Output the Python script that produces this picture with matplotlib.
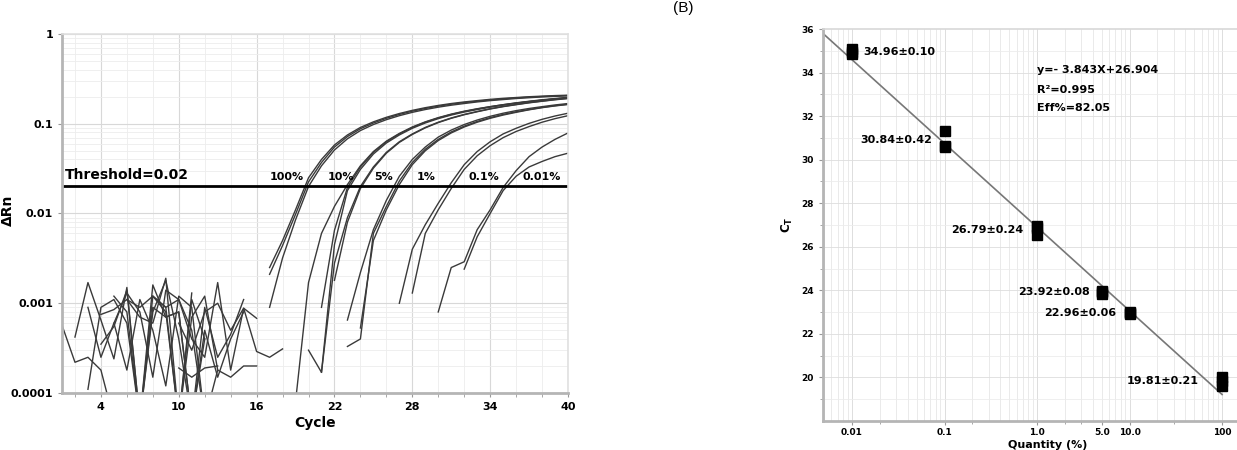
import matplotlib.pyplot as plt
from matplotlib.ticker import FixedLocator, LogLocator, NullFormatter
import numpy as np

W, H = 1237, 450

# ---- (A) amplification plot: (first cycle, dRn per cycle) ----
baseline_noise = [
    (1, [0.00057, 0.00022, 0.00025, 0.00018, 0.00005]),
    (2, [0.00042, 0.0017, 0.00065, 0.00024, 0.0015, 0.00005, 0.0008, 0.0018, 0.0004, 0.00005, 0.0004]),
    (3, [0.00011, 0.0009, 0.0011, 0.0006, 0.00005, 0.0012, 0.0009, 0.00005, 0.0007, 0.0012, 0.00018]),
    (3, [0.0009, 0.00025, 0.0006, 0.0013, 0.0008, 0.00015, 0.0014, 0.0011, 0.0005, 0.00005]),
    (4, [0.00075, 0.00085, 0.0011, 0.0007, 0.0006, 0.0019, 0.00005, 0.0011, 0.0004]),
    (4, [0.00035, 0.00055, 0.0014, 0.00005, 0.0009, 0.0007, 0.0008, 0.00005, 0.0009, 0.00025, 0.00045, 0.0011]),
    (5, [0.0012, 0.0008, 0.00005, 0.0016, 0.0007, 0.0008, 0.00005, 0.0005, 0.00015, 0.0004, 0.0008]),
    (5, [0.0006, 0.00018, 0.0011, 0.0005, 0.00012, 0.0012, 0.0009, 0.00005, 0.00018, 0.00015, 0.0002, 0.0002]),
    (6, [0.0011, 0.0009, 0.0012, 0.0008, 0.00005, 0.0013]),
    (8, [0.0012, 0.0009, 0.0011, 0.0004, 0.00025, 0.0017, 0.00018, 0.00088, 0.00068]),
    (10, [0.0006, 0.0003, 0.0008, 0.0010, 0.0005, 0.00088, 0.00029, 0.00025, 0.00031]),
    (10, [0.00019, 0.00015, 0.00019, 0.0002]),
]
curves_100 = [
    (17, [0.0025, 0.0050, 0.0110, 0.0250, 0.040, 0.058, 0.075, 0.091, 0.105, 0.118, 0.130, 0.141,
          0.151, 0.160, 0.168, 0.175, 0.181, 0.187, 0.192, 0.196, 0.200, 0.203, 0.206, 0.208]),
    (17, [0.0021, 0.0044, 0.0098, 0.0225, 0.037, 0.055, 0.072, 0.088, 0.102, 0.115, 0.127, 0.138,
          0.148, 0.157, 0.165, 0.172, 0.178, 0.184, 0.189, 0.194, 0.198, 0.201, 0.204, 0.206]),
    (17, [0.0009, 0.0032, 0.0085, 0.0200, 0.034, 0.051, 0.068, 0.084, 0.098, 0.111, 0.123, 0.134,
          0.144, 0.153, 0.161, 0.168, 0.175, 0.181, 0.186, 0.191, 0.195, 0.199, 0.202, 0.205]),
]
curves_10 = [
    (19, [0.00008, 0.0017, 0.0060, 0.0120, 0.0210, 0.034, 0.049, 0.064, 0.078, 0.092, 0.105,
          0.117, 0.128, 0.138, 0.147, 0.155, 0.163, 0.170, 0.177, 0.183, 0.189, 0.194]),
    (21, [0.0009, 0.0065, 0.0195, 0.033, 0.048, 0.063, 0.077, 0.091, 0.104, 0.116, 0.127,
          0.137, 0.146, 0.155, 0.163, 0.171, 0.178, 0.185, 0.191, 0.197]),
    (21, [0.00017, 0.0045, 0.0180, 0.031, 0.046, 0.061, 0.075, 0.089, 0.102, 0.114, 0.125,
          0.135, 0.144, 0.153, 0.161, 0.169, 0.176, 0.183, 0.189, 0.195]),
]
curves_5 = [
    (20, [0.0003, 0.00017, 0.0028, 0.0090, 0.0200, 0.033, 0.048, 0.063, 0.077, 0.091, 0.104,
          0.116, 0.127, 0.137, 0.147, 0.156, 0.164, 0.172, 0.179, 0.186, 0.192]),
    (22, [0.0018, 0.0080, 0.0190, 0.032, 0.047, 0.062, 0.076, 0.090, 0.103, 0.115, 0.126,
          0.136, 0.146, 0.155, 0.163, 0.171, 0.178, 0.185, 0.191]),
]
curves_1 = [
    (23, [0.00065, 0.0022, 0.0066, 0.0140, 0.0260, 0.040, 0.055, 0.071, 0.085, 0.098, 0.110,
          0.121, 0.131, 0.140, 0.148, 0.155, 0.162, 0.168]),
    (23, [0.00033, 0.00040, 0.0060, 0.0120, 0.0230, 0.037, 0.052, 0.067, 0.081, 0.094, 0.106,
          0.117, 0.127, 0.136, 0.144, 0.152, 0.159, 0.165]),
    (24, [0.00053, 0.0050, 0.0110, 0.0210, 0.035, 0.050, 0.065, 0.079, 0.092, 0.104, 0.115,
          0.125, 0.134, 0.143, 0.151, 0.158, 0.164]),
]
curves_01 = [
    (27, [0.0010, 0.0040, 0.0075, 0.0130, 0.0220, 0.035, 0.049, 0.063, 0.077, 0.089, 0.101,
          0.112, 0.122, 0.131]),
    (28, [0.0013, 0.0060, 0.0110, 0.0190, 0.031, 0.044, 0.057, 0.070, 0.082, 0.093, 0.104,
          0.114, 0.123]),
]
curves_001 = [
    (30, [0.0008, 0.0025, 0.0029, 0.0066, 0.0110, 0.0195, 0.030, 0.043, 0.055, 0.067, 0.079]),
    (32, [0.0024, 0.0055, 0.0100, 0.0180, 0.026, 0.033, 0.038, 0.043, 0.047]),
]
threshold = 0.02
dilution_labels = ['100%', '10%', '5%', '1%', '0.1%', '0.01%']
dilution_label_x = [18.3, 22.5, 25.8, 29.1, 33.5, 38.0]

# ---- (B) standard curve ----
quantity = [0.01, 0.1, 1.0, 5.0, 10.0, 100]
ct_reps = [
    [34.86, 35.06, 34.96],
    [31.30, 30.60, 30.62],
    [26.55, 26.95, 26.87],
    [23.85, 23.98, 23.93],
    [22.90, 23.00, 22.98],
    [19.62, 20.00, 19.83],
]
ct_labels = ['34.96±0.10', '30.84±0.42', '26.79±0.24', '23.92±0.08', '22.96±0.06', '19.81±0.21']
slope, intercept = -3.843, 26.904
# label offsets in pixels (dx, dy)
label_offsets = [(11, 0), (-12, 1), (-14, 0), (-12, 0), (-13, 0), (-23, 0)]

fig = plt.figure(figsize=(W / 100, H / 100), dpi=100)
fig.patch.set_facecolor('white')

# ---------------- panel A ----------------
ax1 = fig.add_axes([62 / W, 1 - 393 / H, (568 - 62) / W, (393 - 34) / H])
ax1.set_yscale('log')
ax1.set_xlim(1, 40)
ax1.set_ylim(1e-4, 1)

for group in [baseline_noise, curves_100, curves_10, curves_5, curves_1, curves_01, curves_001]:
    for start, vals in group:
        cyc = np.arange(start, start + len(vals))
        ax1.plot(cyc, vals, color='#3a3a3a', lw=1.0)

ax1.axhline(threshold, color='black', lw=2)
ax1.text(1.2, threshold * 1.12, 'Threshold=0.02', fontsize=10, fontweight='bold', va='bottom', ha='left')
for lab, x in zip(dilution_labels, dilution_label_x):
    ax1.text(x, threshold * 1.12, lab, fontsize=8, fontweight='bold', ha='center', va='bottom')

ax1.set_xticks(range(4, 41, 6))
ax1.xaxis.set_minor_locator(FixedLocator(range(2, 41, 2)))
ax1.set_yticks([1e-4, 1e-3, 1e-2, 0.1, 1])
ax1.set_yticklabels(['0.0001', '0.001', '0.01', '0.1', '1'])
ax1.yaxis.set_minor_locator(LogLocator(base=10, subs=np.arange(2, 10)))
ax1.yaxis.set_minor_formatter(NullFormatter())
ax1.grid(which='major', color='#d8d8d8', lw=0.8)
ax1.grid(which='minor', color='#ededed', lw=0.6)
ax1.set_axisbelow(True)
ax1.tick_params(axis='both', which='major', labelsize=8, color='#999999', length=3)
ax1.tick_params(axis='x', which='minor', color='#999999', length=3)
ax1.tick_params(axis='y', which='minor', length=0)
for lab in ax1.get_xticklabels() + ax1.get_yticklabels():
    lab.set_fontweight('bold')
for side in ['left', 'bottom']:
    ax1.spines[side].set_color('#b5b5b5')
    ax1.spines[side].set_linewidth(2)
for side in ['top', 'right']:
    ax1.spines[side].set_color('#e0e0e0')
    ax1.spines[side].set_linewidth(1.2)

fig.text(315 / W, 1 - 423 / H, 'Cycle', fontsize=10, fontweight='bold', ha='center', va='center')
fig.text(8 / W, 1 - 210 / H, 'ΔRn', fontsize=10, fontweight='bold', rotation=90, ha='center', va='center')

# ---------------- panel B ----------------
ax2 = fig.add_axes([823 / W, 1 - 421 / H, (1237 - 823) / W, (421 - 29) / H])
ax2.set_xscale('log')
ax2.set_xlim(0.00486, 145)
ax2.set_ylim(18, 36)

x_fit = np.array([0.00486, 100])
ax2.plot(x_fit, slope * np.log10(x_fit) + intercept, color='#777777', lw=1.2)

for q, reps in zip(quantity, ct_reps):
    ax2.plot([q] * len(reps), reps, 's', color='black', markersize=7, ls='none')

for q, reps, lab, (dx, dy) in zip(quantity, ct_reps, ct_labels, label_offsets):
    ax2.annotate(lab, (q, np.mean(reps)), xytext=(dx * 0.72, dy * 0.72), textcoords='offset points',
                 ha='left' if dx > 0 else 'right', va='center', fontsize=8, fontweight='bold')

ax2.text(1.0, 34.12, 'y=- 3.843X+26.904', fontsize=8, fontweight='bold', va='center')
ax2.text(1.0, 33.22, 'R²=0.995', fontsize=8, fontweight='bold', va='center')
ax2.text(1.0, 32.38, 'Eff%=82.05', fontsize=8, fontweight='bold', va='center')

ax2.set_xticks(quantity)
ax2.set_xticklabels(['0.01', '0.1', '1.0', '5.0', '10.0', '100'])
ax2.xaxis.set_minor_locator(FixedLocator([0.02, 0.2, 2, 3, 30]))
ax2.xaxis.set_minor_formatter(NullFormatter())
ax2.set_yticks(range(20, 37, 2))
ax2.yaxis.set_minor_locator(FixedLocator(range(19, 36, 2)))

# light grid lines (log subdivisions vertical, every unit horizontal)
for dec in [0.001, 0.01, 0.1, 1, 10, 100]:
    for k in range(1, 10):
        v = dec * k
        if 0.00486 < v < 145:
            ax2.axvline(v, color='#e6e6e6' if k > 1 else '#d8d8d8', lw=0.6, zorder=0)
for yy in range(19, 36):
    ax2.axhline(yy, color='#ececec' if yy % 2 else '#dddddd', lw=0.6, zorder=0)

ax2.tick_params(axis='both', which='major', labelsize=6.5, color='#999999', length=3)
ax2.tick_params(axis='x', which='major', pad=2)
ax2.tick_params(axis='both', which='minor', color='#999999', length=2)
for lab in ax2.get_xticklabels() + ax2.get_yticklabels():
    lab.set_fontweight('bold')
for side in ['left', 'bottom']:
    ax2.spines[side].set_color('#b5b5b5')
    ax2.spines[side].set_linewidth(2)
ax2.spines['top'].set_color('#d8d8d8')
ax2.spines['top'].set_linewidth(1.2)
ax2.spines['right'].set_visible(False)

fig.text(787 / W, 1 - 225 / H, 'C$_\\mathregular{T}$', fontsize=8.5, fontweight='bold', rotation=90,
         ha='center', va='center')
fig.text(1048 / W, 1 - 444.5 / H, 'Quantity (%)', fontsize=8, fontweight='bold', ha='center', va='center')
fig.text(683 / W, 1 - 8 / H, '(B)', fontsize=11, family='Liberation Sans', ha='center', va='center')

fig.savefig('out.png', dpi=100)
